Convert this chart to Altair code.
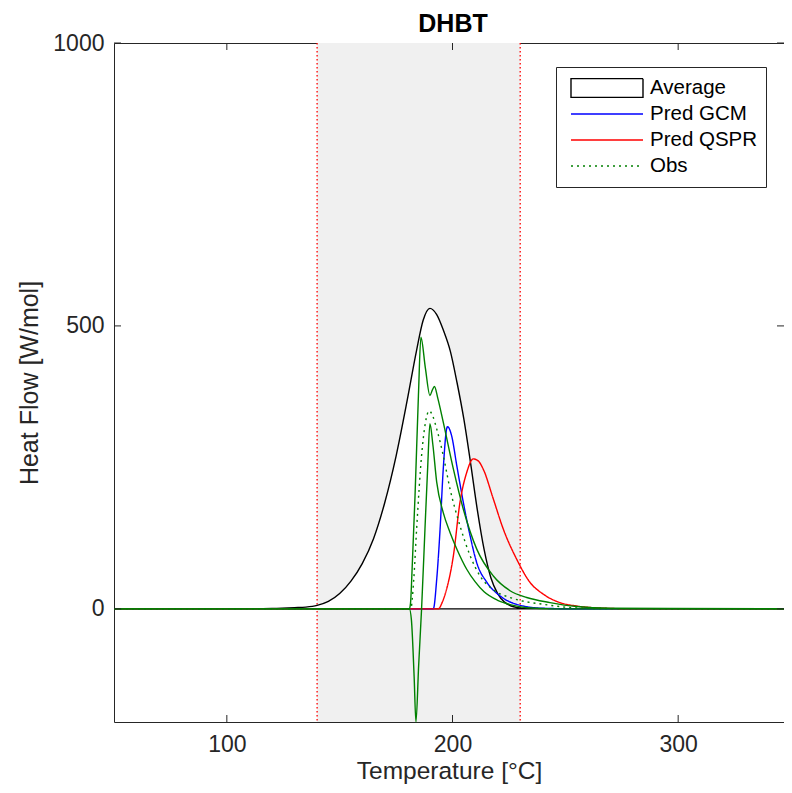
import altair as alt
import pandas as pd

# ---------------- data ----------------
SERIES = ["Average", "Pred GCM", "Pred QSPR", "Obs"]
SERIES_COLORS = ["#000000", "#0000ff", "#ff0000", "#008000"]

# window of the shaded region (°C)
WINDOW = [140, 230]

# axis limits and ticks
X_LIM = [50, 350]
Y_LIM = [-200, 1000]
X_TICKS = [100, 200, 300]
Y_TICKS = [0, 500, 1000]

# Average (filled patch)
T_AVG = [50, 110, 120, 130, 135, 140, 145, 150, 155, 160, 165, 170, 175, 180, 184,
         187, 190, 193, 196, 199, 202, 205, 208, 211, 214, 217, 220, 223, 226, 229,
         233, 240, 350]
V_AVG = [0, 0, 0.5, 2, 3, 6, 13, 27, 49, 80, 124, 188, 270, 370, 455,
         510, 531, 520, 492, 456, 400, 336, 258, 175, 105, 55, 27, 12, 5, 2,
         0.5, 0, 0]

# Pred GCM
T_GCM = [50, 191.5, 193, 194.5, 195.9, 197.4, 197.8, 199.6, 201.9, 204.8, 207.8,
         210.7, 215.2, 221, 228.4, 240.2, 255, 350]
V_GCM = [0, 0, 52, 141, 247, 318, 322, 306, 253, 188, 129,
         82, 47, 23, 8, 1, 0, 0]

# Pred QSPR
T_QSPR = [50, 193.7, 195.5, 197.4, 200.4, 203.3, 206.3, 209.2, 211.5, 213.6, 218.1,
          222.5, 228.4, 234.3, 240.2, 247.6, 255, 265, 280, 350]
V_QSPR = [0, 0, 12, 35, 94, 188, 241, 265, 261, 247, 194,
          141, 88, 47, 26, 11, 5, 1.5, 0, 0]

# Obs (mean, dotted)
T_OBS = [50, 181.5, 182.8, 184.1, 186.3, 187.8, 189.7, 191.3, 193, 195.9, 198.9, 203.3,
         207.8, 212.2, 218, 225.5, 232, 240.2, 250, 265, 350]
V_OBS = [0, 0, 50, 141, 271, 324, 350, 340, 318, 271, 212, 147,
         94, 58, 34, 20, 13, 8, 3, 0.5, 0]

# Individual observed runs (solid green)
T_RUN1 = [50, 180.9, 181.4, 182.2, 183.4, 184.9, 186, 188, 190, 191, 192, 193.5,
          195.9, 200.4, 204.8, 210.7, 218.1, 225.5, 232.9, 243.2, 255, 270, 350]
V_RUN1 = [0, 0, 10, 80, 200, 377, 480, 425, 377, 386, 393, 372,
          330, 247, 176, 106, 58, 32, 20, 11, 4, 1, 0]

T_RUN2 = [50, 180.9, 181.8, 183, 183.8, 185, 186.3, 187.8, 189, 190, 191.3, 193,
          195.9, 198.9, 202, 206.3, 210, 214, 220, 226, 233, 245, 350]
V_RUN2 = [0, 0, -20, -120, -200, -100, 0, 141, 250, 327, 290, 224,
          170, 135, 105, 70, 48, 30, 15, 7, 2, 0, 0]

# ---------------- tables ----------------
avg_df = pd.DataFrame({"T": T_AVG, "V": V_AVG, "series": "Average"})
line_df = pd.concat([
    pd.DataFrame({"T": T_GCM, "V": V_GCM, "series": "Pred GCM"}),
    pd.DataFrame({"T": T_QSPR, "V": V_QSPR, "series": "Pred QSPR"}),
    pd.DataFrame({"T": T_OBS, "V": V_OBS, "series": "Obs"}),
], ignore_index=True)
run_df = pd.concat([
    pd.DataFrame({"T": T_RUN1, "V": V_RUN1, "run": "run 1"}),
    pd.DataFrame({"T": T_RUN2, "V": V_RUN2, "run": "run 2"}),
], ignore_index=True)
shade_df = pd.DataFrame({"x0": [WINDOW[0]], "x1": [WINDOW[1]],
                         "y0": [Y_LIM[0]], "y1": [Y_LIM[1]]})
win_df = pd.DataFrame({"x": WINDOW})

# ---------------- layout ----------------
# The reference plot area is 677 px for 300 °C and runs to the page edge;
# the page only leaves 670 px, so the visible x window is cut accordingly.
PX_PER_DEG = 677 / (X_LIM[1] - X_LIM[0])
W, H = 670, 679
X_VIEW = [X_LIM[0], X_LIM[0] + W / PX_PER_DEG]

FONT = "Liberation Sans"
AX = "#262626"
TICK_PX = 7
tick_y = TICK_PX * (Y_LIM[1] - Y_LIM[0]) / H
tick_x = TICK_PX / PX_PER_DEG

xticks_df = pd.DataFrame({
    "x": X_TICKS * 2,
    "y0": [Y_LIM[0]] * 3 + [Y_LIM[1]] * 3,
    "y1": [Y_LIM[0] + tick_y] * 3 + [Y_LIM[1] - tick_y] * 3,
})
yticks_df = pd.DataFrame({
    "y": Y_TICKS * 2,
    "x0": [X_VIEW[0]] * 3 + [X_VIEW[1]] * 3,
    "x1": [X_VIEW[0] + tick_x] * 3 + [X_VIEW[1] - tick_x] * 3,
})

xscale = alt.Scale(domain=X_VIEW, nice=False, zero=False)
yscale = alt.Scale(domain=Y_LIM, nice=False, zero=False)

X = alt.X("T:Q", scale=xscale, title="Temperature [°C]",
          axis=alt.Axis(values=X_TICKS, tickSize=0, domain=False, grid=False, format="d",
                        labelFontSize=23, labelFont=FONT, labelColor=AX, labelPadding=11,
                        titleFontSize=24.5, titleFont=FONT, titleColor=AX,
                        titleFontWeight="normal", titlePadding=3))
Y = alt.Y("V:Q", scale=yscale, title="Heat Flow [W/mol]",
          axis=alt.Axis(values=Y_TICKS, tickSize=0, domain=False, grid=False, format="d",
                        labelFontSize=23, labelFont=FONT, labelColor=AX, labelPadding=10,
                        titleFontSize=25, titleFont=FONT, titleColor=AX,
                        titleFontWeight="normal", titlePadding=10))

color_scale = alt.Scale(domain=SERIES, range=SERIES_COLORS)
dash_scale = alt.Scale(domain=SERIES, range=[[1, 0], [1, 0], [1, 0], [2, 4]])

legend = alt.Legend(
    title=None, orient="none", legendX=442, legendY=24, direction="vertical",
    fillColor="white", strokeColor=AX, padding=8, cornerRadius=0,
    symbolType=alt.ExprRef(
        "datum.value === 'Average' ? 'M-1,-0.26H1V0.26H-1Z' : 'stroke'"),
    symbolSize=5184, symbolStrokeWidth=1.4,
    clipHeight=26, rowPadding=0, symbolOffset=6, labelOffset=6,
    labelFontSize=20.5, labelFont=FONT, labelColor="#000000", labelLimit=300,
)

shade = alt.Chart(shade_df).mark_rect(color="#f0f0f0").encode(
    x=alt.X("x0:Q", scale=xscale), x2="x1:Q",
    y=alt.Y("y0:Q", scale=yscale), y2="y1:Q")

win_lines = alt.Chart(win_df).mark_rule(color="#ff0000", strokeDash=[1.5, 2.5],
                                        strokeWidth=1.3).encode(
    x=alt.X("x:Q", scale=xscale))

avg = alt.Chart(avg_df).mark_area(fill="white", strokeWidth=1.4,
                                  interpolate="monotone").encode(
    x=X, y=Y,
    stroke=alt.Stroke("series:N", scale=color_scale, legend=legend))

lines = alt.Chart(line_df).mark_line(strokeWidth=1.4, interpolate="monotone").encode(
    x=X, y=Y,
    stroke=alt.Stroke("series:N", scale=color_scale, legend=legend),
    strokeDash=alt.StrokeDash("series:N", scale=dash_scale, legend=legend))

runs = alt.Chart(run_df).mark_line(strokeWidth=1.4, color="#008000",
                                   interpolate="monotone").encode(
    x=X, y=Y, detail="run:N")

xt = alt.Chart(xticks_df).mark_rule(color=AX, strokeWidth=1).encode(
    x=alt.X("x:Q", scale=xscale), y=alt.Y("y0:Q", scale=yscale), y2="y1:Q")
yt = alt.Chart(yticks_df).mark_rule(color=AX, strokeWidth=1).encode(
    y=alt.Y("y:Q", scale=yscale), x=alt.X("x0:Q", scale=xscale), x2="x1:Q")

chart = alt.layer(shade, win_lines, avg, lines, runs, xt, yt).properties(
    width=W, height=H,
    title=alt.TitleParams("DHBT", fontSize=25, font=FONT, fontWeight="bold",
                          color="#000000", offset=2, dx=4, dy=7),
    padding={"left": 106, "top": 35, "right": 0, "bottom": 62},
    autosize=alt.AutoSizeParams(type="none"),
).configure_view(stroke=AX, strokeWidth=1)

chart.save("out.html", embed_options={"renderer": "svg", "actions": False})
